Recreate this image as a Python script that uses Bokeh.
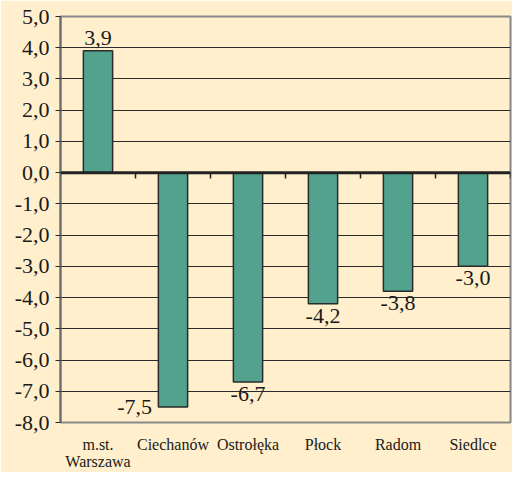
from bokeh.plotting import figure
from bokeh.models import ColumnDataSource, FixedTicker, Range1d, Span
from bokeh.core.properties import value
from bokeh.embed import file_html
from bokeh.resources import INLINE

categories = ["m.st.\nWarszawa", "Ciechanów", "Ostrołęka", "Płock", "Radom", "Siedlce"]
values = [3.9, -7.5, -6.7, -4.2, -3.8, -3.0]
y_ticks = [-8, -7, -6, -5, -4, -3, -2, -1, 0, 1, 2, 3, 4, 5]

BG = "#FFEFCC"
BAR = "#52A28E"
FONT = "'Liberation Serif', 'Times New Roman', serif"

n = len(categories)
xs = [i + 0.5 for i in range(n)]
labels = [f"{v:.1f}".replace(".", ",") for v in values]

p = figure(width=512, height=472, output_backend="svg", toolbar_location=None,
           x_range=Range1d(0, n), y_range=Range1d(min(y_ticks), max(y_ticks)),
           min_border_left=60, min_border_right=2, min_border_top=16, min_border_bottom=46)
p.background_fill_color = BG
p.border_fill_color = BG
p.outline_line_color = "#8a8a8a"
p.outline_line_width = 2

# grid
p.xgrid.grid_line_color = None
p.ygrid.grid_line_color = "#2a2a2a"
p.ygrid.grid_line_width = 1
p.ygrid.ticker = FixedTicker(ticks=y_ticks)

# y axis
p.yaxis.ticker = FixedTicker(ticks=y_ticks)
p.yaxis.major_label_overrides = {t: f"{t:.1f}".replace(".", ",") for t in y_ticks}
p.yaxis.major_label_text_font = FONT
p.yaxis.major_label_text_font_size = "22px"
p.yaxis.major_label_text_color = "#1a1a1a"
p.yaxis.axis_line_color = "#6a6a6a"
p.yaxis.axis_line_width = 2
p.yaxis.major_tick_line_color = "#2a2a2a"
p.yaxis.major_tick_out = 5
p.yaxis.major_tick_in = 0
p.yaxis.minor_tick_line_color = None
p.yaxis.major_label_standoff = 6

# x axis (category labels only)
p.xaxis.ticker = FixedTicker(ticks=xs)
p.xaxis.major_label_overrides = {x: c for x, c in zip(xs, categories)}
p.xaxis.major_label_text_font = FONT
p.xaxis.major_label_text_font_size = "16px"
p.xaxis.major_label_text_color = "#1a1a1a"
p.xaxis.major_label_text_line_height = 1.0
p.xaxis.axis_line_color = None
p.xaxis.major_tick_line_color = None
p.xaxis.minor_tick_line_color = None
p.xaxis.major_label_standoff = 7

src = ColumnDataSource(dict(x=xs, top=values, label=labels))
p.vbar(x="x", top="top", bottom=0, width=0.39, source=src,
       fill_color=BAR, line_color="#2b2b2b", line_width=1.5)

# zero line with category boundary ticks
p.add_layout(Span(location=0, dimension="width", line_color="#222222", line_width=3))
bounds = list(range(1, n + 1))
p.segment(x0=bounds, y0=[0] * n, x1=bounds, y1=[-0.19] * n, line_color="#222222", line_width=1.5)

# value labels
pos = [i for i, v in enumerate(values) if v >= 0]
neg = [i for i, v in enumerate(values) if -7 <= v < 0]
low = [i for i, v in enumerate(values) if v < -7]

def sub(idx):
    return dict(x=[xs[i] for i in idx], y=[values[i] for i in idx], t=[labels[i] for i in idx])

common = dict(text_font=value(FONT), text_font_size="22px", text_color="#1a1a1a")
p.text(x="x", y="y", text="t", source=ColumnDataSource(sub(pos)), text_align="center",
       text_baseline="bottom", y_offset=-6, **common)
p.text(x="x", y="y", text="t", source=ColumnDataSource(sub(neg)), text_align="center",
       text_baseline="top", y_offset=5, **common)
p.text(x="x", y="y", text="t", source=ColumnDataSource(sub(low)), text_align="right",
       text_baseline="middle", x_offset=-21, **common)

open("out.html", "w").write(file_html(p, INLINE))
